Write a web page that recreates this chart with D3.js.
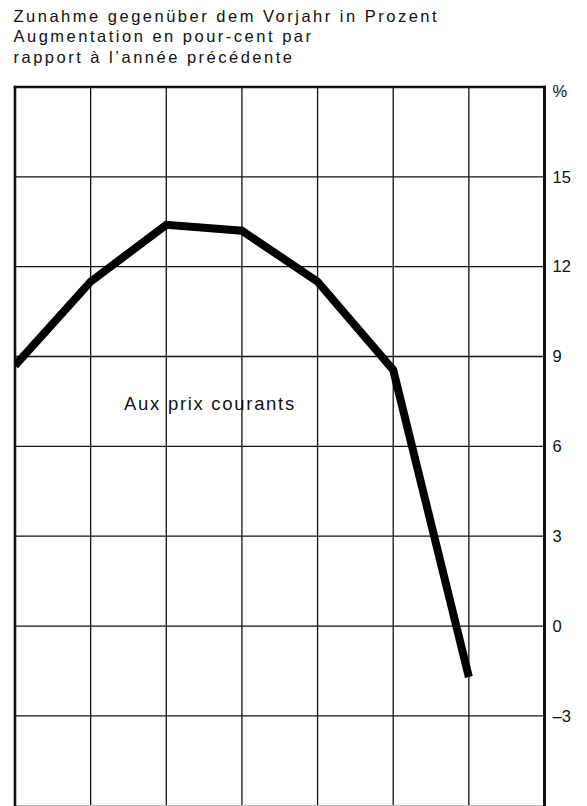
<!DOCTYPE html>
<html>
<head>
<meta charset="utf-8">
<script src="https://cdn.jsdelivr.net/npm/d3@7"></script>
<style>
  html, body { margin: 0; padding: 0; background: #fff; }
  svg { display: block; }
  text { font-family: "Liberation Sans", Arial, Helvetica, sans-serif; fill: #111; }
</style>
</head>
<body>
<script>
// Year-over-year change, current prices (percent)
const titleLines = [
  "Zunahme gegenüber dem Vorjahr in Prozent",
  "Augmentation en pour-cent par",
  "rapport à l’année précédente"
];
const periods = [0, 1, 2, 3, 4, 5, 6, 7];                 // vertical grid columns
const growth = [8.7, 11.5, 13.4, 13.2, 11.5, 8.55, -1.7];  // one value per period
const yTicks = [-3, 0, 3, 6, 9, 12, 15];
const yTickLabels = ["–3", "0", "3", "6", "9", "12", "15"];
const seriesLabel = "Aux prix courants";

const W = 587, H = 806;
const svg = d3.select("body").append("svg").attr("width", W).attr("height", H);

const x = d3.scaleLinear().domain([0, 7]).range([15, 544.5]);
const y = d3.scaleLinear().domain([-6, 18]).range([805.7, 87]);

// title, set with wide tracking
const title = svg.append("g");
titleLines.forEach((t, i) => {
  title.append("text")
    .attr("x", 13.5)
    .attr("y", 21.5 + i * 20.5)
    .attr("font-size", 16.5)
    .attr("letter-spacing", 2.5)
    .text(t);
});

// horizontal grid
svg.append("g").selectAll("line").data(yTicks).join("line")
  .attr("x1", x(0)).attr("x2", x(7))
  .attr("y1", d => y(d)).attr("y2", d => y(d))
  .attr("stroke", "#111").attr("stroke-width", 1.3);

// vertical grid
svg.append("g").selectAll("line").data(periods.slice(1, -1)).join("line")
  .attr("x1", d => x(d)).attr("x2", d => x(d))
  .attr("y1", y(18)).attr("y2", H)
  .attr("stroke", "#111").attr("stroke-width", 1.3);

// faint bottom edge
svg.append("line")
  .attr("x1", x(0)).attr("x2", x(7))
  .attr("y1", y(-6)).attr("y2", y(-6))
  .attr("stroke", "#bbb").attr("stroke-width", 1.5);

// frame: left, top, right
svg.append("line").attr("x1", x(0)).attr("x2", x(0)).attr("y1", y(18) - 1.2).attr("y2", H)
  .attr("stroke", "#111").attr("stroke-width", 2.6);
svg.append("line").attr("x1", x(0) - 1.3).attr("x2", x(7) + 1.5).attr("y1", y(18)).attr("y2", y(18))
  .attr("stroke", "#111").attr("stroke-width", 2.6);
svg.append("line").attr("x1", x(7)).attr("x2", x(7)).attr("y1", y(18) - 1.2).attr("y2", H)
  .attr("stroke", "#111").attr("stroke-width", 3);

// right-hand axis labels
const axis = d3.axisRight(y).tickValues(yTicks).tickSize(0).tickPadding(8)
  .tickFormat((d, i) => yTickLabels[i]);
const ag = svg.append("g").attr("transform", `translate(${x(7)},0)`).call(axis);
ag.select(".domain").remove();
ag.selectAll("text").attr("font-size", 16.5).attr("font-family", "'Liberation Sans', Arial, sans-serif").attr("fill", "#111");
svg.append("text").attr("x", x(7) + 8).attr("y", y(18) + 10).attr("font-size", 16.5).text("%");

// series line
const line = d3.line().x((d, i) => x(periods[i])).y(d => y(d));
svg.append("clipPath").attr("id", "plot").append("rect")
  .attr("x", x(0)).attr("y", y(18)).attr("width", x(7) - x(0)).attr("height", H - y(18));
svg.append("path")
  .datum(growth)
  .attr("clip-path", "url(#plot)")
  .attr("d", line)
  .attr("fill", "none")
  .attr("stroke", "#000")
  .attr("stroke-width", 8)
  .attr("stroke-linejoin", "miter")
  .attr("stroke-linecap", "butt");

// series label
svg.append("text")
  .attr("x", 210).attr("y", 410)
  .attr("text-anchor", "middle")
  .attr("font-size", 18.5)
  .attr("letter-spacing", 1.7)
  .text(seriesLabel);
</script>
</body>
</html>
